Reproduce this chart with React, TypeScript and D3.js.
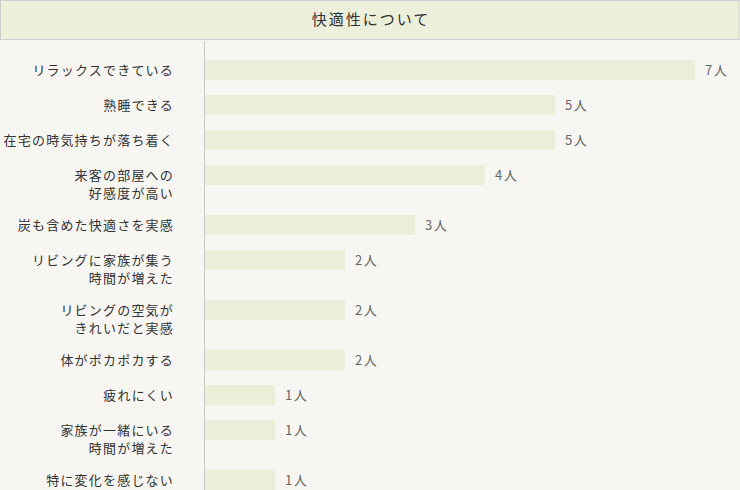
import { useMemo } from "react";
import * as d3 from "d3";

// 項目ラベル（改行は配列で）
const labels: string[][] = [
  ["リラックスできている"],
  ["熟睡できる"],
  ["在宅の時気持ちが落ち着く"],
  ["来客の部屋への", "好感度が高い"],
  ["炭も含めた快適さを実感"],
  ["リビングに家族が集う", "時間が増えた"],
  ["リビングの空気が", "きれいだと実感"],
  ["体がポカポカする"],
  ["疲れにくい"],
  ["家族が一緒にいる", "時間が増えた"],
  ["特に変化を感じない"],
];
const counts: number[] = [7, 5, 5, 4, 3, 2, 2, 2, 1, 1, 1];
const unit = "人";
const title = "快適性について";

const W = 740;
const H = 490;
const axisX = 204.5;
const barH = 20;
const firstTop = 60;
const rowSingle = 35;
const rowExtraLine = 15;
const lineH = 18;
const labelRight = 174;
const font = "'Noto Sans CJK JP', 'Noto Sans', sans-serif";

export default function App() {
  const x = useMemo(() => d3.scaleLinear().domain([0, 7]).range([205, 695]), []);

  // 行ごとの上端位置（2行ラベルは間隔が広い）
  const tops = useMemo(() => {
    const out: number[] = [];
    let y = firstTop;
    labels.forEach((l) => {
      out.push(y);
      y += rowSingle + (l.length - 1) * rowExtraLine;
    });
    return out;
  }, []);

  return (
    <div>
      <style>{"body{margin:0}"}</style>
      <svg width={W} height={H} style={{ display: "block", fontFamily: font }}>
        <rect x={0} y={0} width={W} height={H} fill="#f7f6f2" />
        <rect x={0.5} y={0.5} width={W - 1.5} height={39} fill="#ecefd9" stroke="#cfcfcf" />
        <text x={W / 2 + 1} y={20} dy="0.35em" textAnchor="middle" fontSize={15} letterSpacing={2} fill="#333">
          {title}
        </text>
        <line x1={axisX} x2={axisX} y1={41} y2={H} stroke="#c8c8c8" />
        {counts.map((v, i) => {
          const cy = tops[i] + barH / 2;
          return (
            <g key={i}>
              <rect x={x(0)} y={tops[i]} width={x(v) - x(0)} height={barH} fill="#ebefd8" />
              <text x={x(v) + 10} y={cy} dy="0.35em" fontSize={13} letterSpacing={1.5} fill="#666">
                {v}
                {unit}
              </text>
              <text textAnchor="end" fontSize={13} letterSpacing={1.2} fill="#333">
                {labels[i].map((ln, j) => (
                  <tspan key={j} x={labelRight} y={cy + j * lineH} dy="0.35em">
                    {ln}
                  </tspan>
                ))}
              </text>
            </g>
          );
        })}
      </svg>
    </div>
  );
}
